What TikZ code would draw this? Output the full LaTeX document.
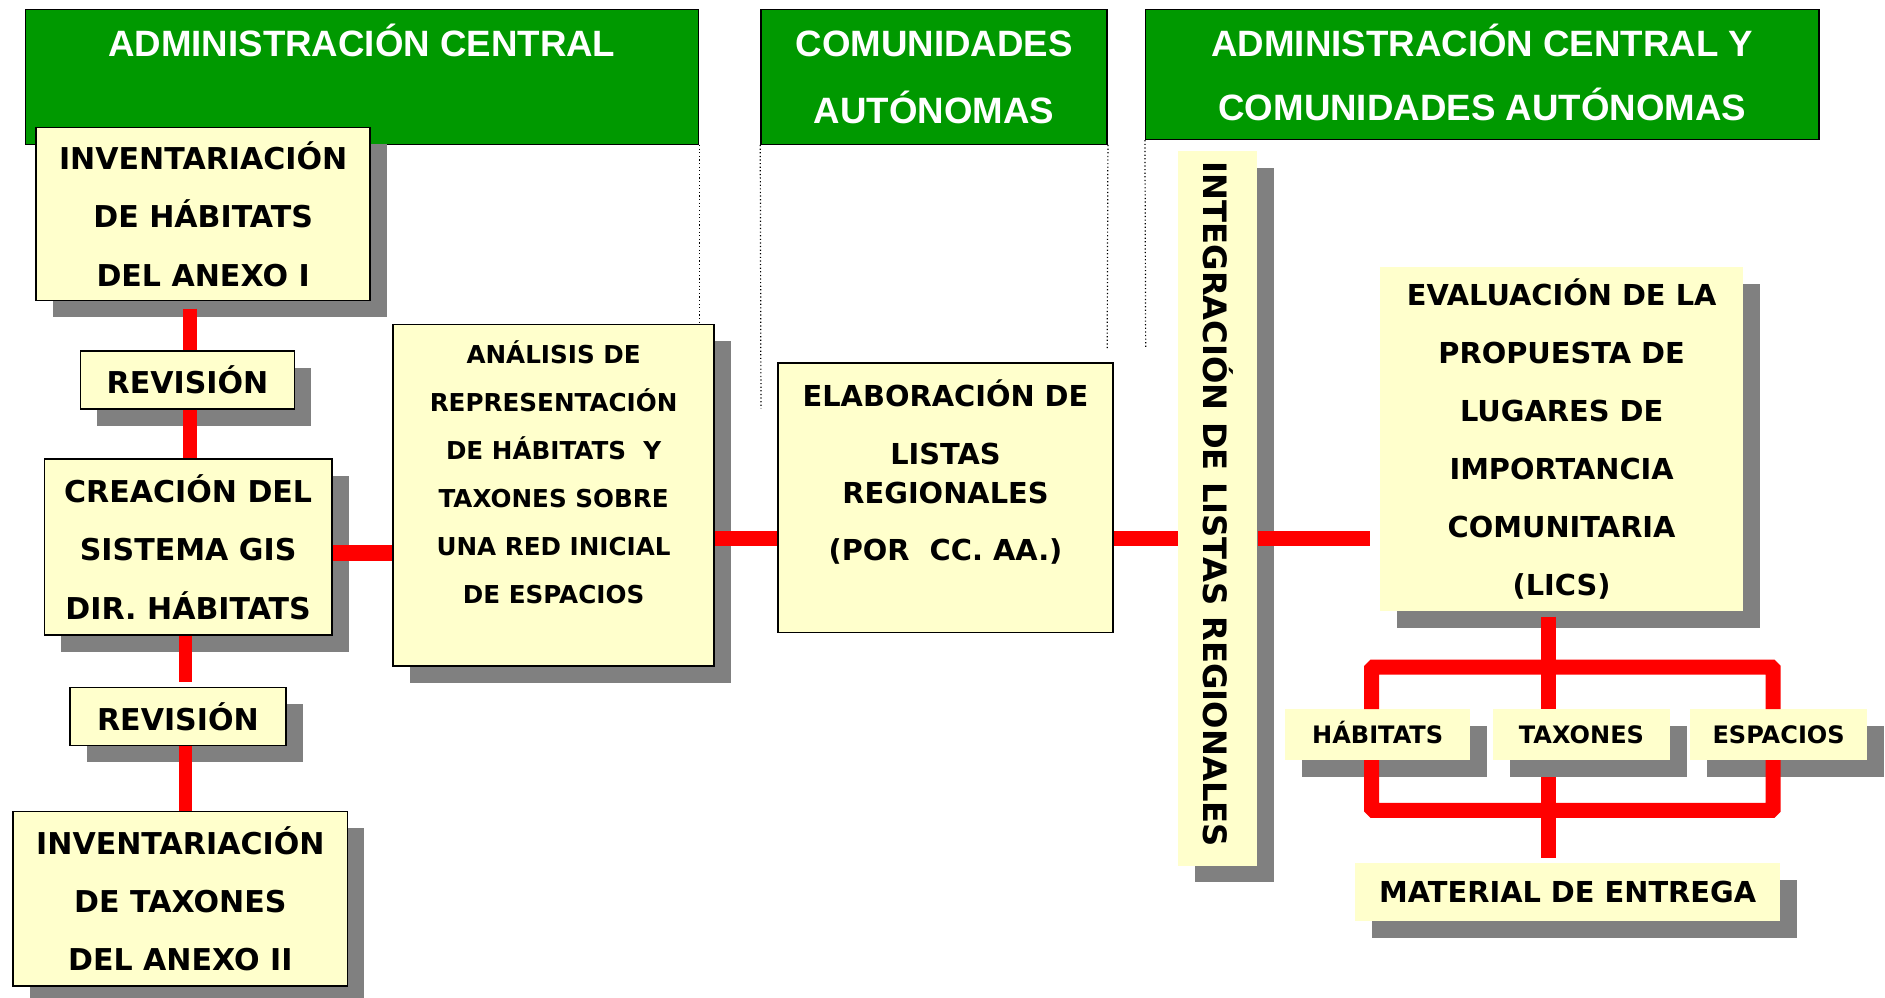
\documentclass[tikz,border=0pt]{standalone}
\usepackage{fontspec}
\setmainfont{DejaVu Sans}
\newfontfamily\hdrfont{Liberation Sans}
\usetikzlibrary{shadows}
\definecolor{hdrgreen}{HTML}{009900}
\definecolor{boxyellow}{HTML}{FFFFCC}
\definecolor{shadowgray}{HTML}{808080}
\definecolor{linkred}{HTML}{FF0000}
\begin{document}
\begin{tikzpicture}[x=1pt,y=-1pt,
  hdr/.style={draw=black, line width=1.2pt, fill=hdrgreen, inner sep=0pt},
  hdrtxt/.style={text=white, font={\hdrfont\bfseries\fontsize{30.5}{36}\selectfont}, inner sep=0pt, anchor=base},
  shd/.style={drop shadow={shadow xshift=14pt, shadow yshift=-14pt, opacity=1, fill=shadowgray}},
  ybox/.style={fill=boxyellow, inner sep=0pt, align=center, text=black},
  bbox/.style={ybox, draw=black, line width=1.3pt},
  txt/.style={inner sep=0pt, align=center, text=black},
  fA/.style={font={\bfseries\fontsize{25}{48.5}\selectfont}},
  fB/.style={font={\bfseries\fontsize{20.5}{40}\selectfont}},
  fC/.style={font={\bfseries\fontsize{24}{48.2}\selectfont}},
  fD/.style={font={\bfseries\fontsize{20}{24}\selectfont}, text height=14.6pt, text depth=0pt},
  conn/.style={draw=linkred, line width=12.5pt},
  thinconn/.style={draw=linkred, line width=11pt},
  guide/.style={dotted, line width=1pt, draw=black},
]
\useasboundingbox (0,0) rectangle (1568,830);

% headers
\node[hdr, minimum width=560pt, minimum height=112pt] (G1) at (301,64) {};
\node[hdr, minimum width=288pt, minimum height=112pt] (G2) at (777,64) {};
\node[hdr, minimum width=560pt, minimum height=108pt] (G3) at (1233,62) {};
\node[hdrtxt] (G1t) at (301,47) {ADMINISTRACIÓN CENTRAL};
\node[hdrtxt] (G2ta) at (777,47) {COMUNIDADES};
\node[hdrtxt] (G2tb) at (777,102.5) {AUTÓNOMAS};
\node[hdrtxt] (G3ta) at (1233,47) {ADMINISTRACIÓN CENTRAL Y};
\node[hdrtxt] (G3tb) at (1233,100.5) {COMUNIDADES AUTÓNOMAS};

% coordinates
\coordinate (g2b) at (633,340);
\coordinate (g2r) at (921,290);
\coordinate (g3l) at (953,290);
\coordinate (xa) at (158,0);
\coordinate (xb) at (154,0);
\coordinate (ya) at (0,460);
\coordinate (yb) at (0,448);
\coordinate (xL) at (1141,0);
\coordinate (xC) at (1288,0);
\coordinate (xR) at (1475,0);
\coordinate (yT) at (0,555);
\coordinate (yB) at (0,674);

% boxes
\node[bbox, shd, fA, minimum width=278pt, minimum height=144pt] (B1) at (169,178) {INVENTARIACIÓN\\DE HÁBITATS\\DEL ANEXO I};
\node[bbox, shd, fA, minimum width=178pt, minimum height=48pt] (R1) at (156,316) {REVISIÓN};
\node[bbox, shd, fA, minimum width=239pt, minimum height=146pt] (B2) at (156.5,455) {CREACIÓN DEL\\SISTEMA GIS\\DIR. HÁBITATS};
\node[bbox, shd, fA, minimum width=180pt, minimum height=48pt] (R2) at (148,596) {REVISIÓN};
\node[bbox, shd, fA, minimum width=278pt, minimum height=145pt] (B3) at (150,747.5) {INVENTARIACIÓN\\DE TAXONES\\DEL ANEXO II};
\node[bbox, shd, minimum width=267pt, minimum height=284pt] (A) at (460.5,412) {};
\node[txt, fB] (At) at (460.5,393) {ANÁLISIS DE\\REPRESENTACIÓN\\DE HÁBITATS\ \ Y\\TAXONES SOBRE\\UNA RED INICIAL\\DE ESPACIOS};
\node[bbox, minimum width=279pt, minimum height=224pt] (E) at (786.5,414) {};
\node[txt, font={\bfseries\fontsize{24}{32}\selectfont}] (Et) at (786.5,393) {ELABORACIÓN DE\\[16pt]LISTAS\\REGIONALES\\[16pt](POR\ \ CC. AA.)};
\node[ybox, shd, minimum width=66pt, minimum height=594pt] (I) at (1013,423) {};
\node[txt, rotate=-90, font={\bfseries\fontsize{26.8}{30}\selectfont}] (It) at (1013,419.5) {INTEGRACIÓN DE LISTAS REGIONALES};
\node[ybox, shd, fC, minimum width=302pt, minimum height=286pt] (EV) at (1299,365) {EVALUACIÓN DE LA\\PROPUESTA DE\\LUGARES DE\\IMPORTANCIA\\COMUNITARIA\\(LICS)};
\node[ybox, shd, fD, minimum width=154pt, minimum height=42pt] (H) at (1146,611) {HÁBITATS};
\node[ybox, shd, fD, minimum width=147pt, minimum height=42pt] (T) at (1315.5,611) {TAXONES};
\node[ybox, shd, fD, minimum width=147pt, minimum height=42pt] (ES) at (1479.5,611) {ESPACIOS};
\node[ybox, shd, font={\bfseries\fontsize{24}{30}\selectfont}, text height=17.5pt, text depth=0pt, minimum width=354pt, minimum height=48pt] (M) at (1304,742) {MATERIAL DE ENTREGA};

% dotted guides
\draw[guide] (G1.south east) -- (G1.south east |- A.north);
\draw[guide] (G2.south west) -- (g2b);
\draw[guide] (G2.south east) -- (g2r);
\draw[guide] (G3.south west) -- (g3l);

% connectors
\draw[thinconn, shorten <=6pt] (B1.south -| xa) -- (R1.north -| xa);
\draw[thinconn] (R1.south -| xa) -- (B2.north -| xa);
\draw[thinconn, shorten >=4pt] (B2.south -| xb) -- (R2.north -| xb);
\draw[thinconn] (R2.south -| xb) -- (B3.north -| xb);
\draw[conn] (B2.east |- ya) -- (A.west |- ya);
\draw[conn] (A.east |- yb) -- (E.west |- yb);
\draw[conn] (E.east |- yb) -- (I.west |- yb);
\draw[conn, shorten >=8pt] (I.east |- yb) -- (EV.west |- yb);
\draw[conn, shorten <=5pt] (EV.south -| xC) -- (T.north -| xC);
\draw[conn, rounded corners=1.5pt] (H.north -| xL) -- (yT -| xL) -- (yT -| xR) -- (ES.north -| xR);
\draw[conn, rounded corners=1.5pt] (H.south -| xL) -- (yB -| xL) -- (yB -| xR) -- (ES.south -| xR);
\draw[conn, shorten <=14pt, shorten >=4pt] (T.south -| xC) -- (M.north -| xC);
\end{tikzpicture}
\end{document}
